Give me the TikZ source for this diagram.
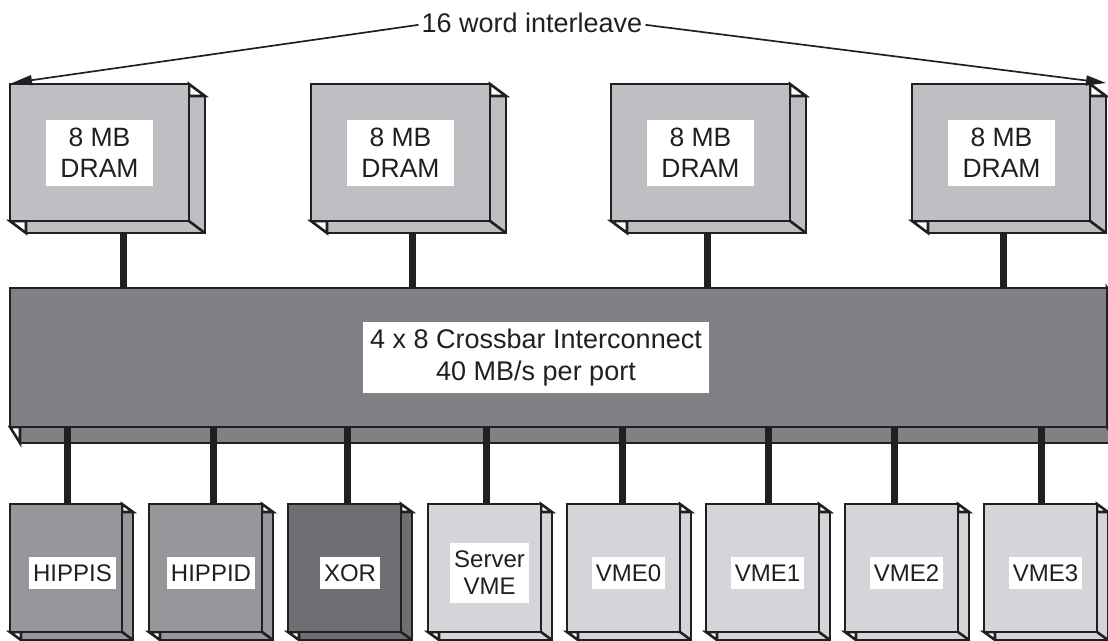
\documentclass[tikz,border=0pt]{standalone}
\usepackage{fontspec}
\setmainfont{Liberation Sans}
\usetikzlibrary{arrows.meta}
\definecolor{ink}{HTML}{231F20}
\definecolor{dramfill}{HTML}{BEBFC3}
\definecolor{xbarfill}{HTML}{808185}
\definecolor{hipfill}{HTML}{96979B}
\definecolor{xorfill}{HTML}{6E6F73}
\definecolor{vmefill}{HTML}{D4D5D8}
\pgfdeclarelayer{bg}
\pgfsetlayers{bg,main}
\tikzset{
  boxline/.style={draw=ink, line width=2.6pt, line join=miter},
  conn/.style={draw=ink, line width=7pt},
  arr/.style={draw=ink, line width=1.7pt, -{Triangle[length=20pt,width=10pt]}},
  lab/.style={fill=white, text=ink, inner sep=0pt, align=center},
  bigfont/.style={font=\fontsize{26.5}{31}\selectfont},
  xfont/.style={font=\fontsize{27}{32}\selectfont},
  lowfont/.style={font=\fontsize{24}{27}\selectfont},
}
% #1 name, #2 x0, #3 y0, #4 x1, #5 y1, #6 dx, #7 dy, #8 fill
\newcommand\threedbox[8]{%
  \path[boxline, fill=#8] ({#2+#6},{#3+#7}) rectangle ({#4+#6},{#5+#7});
  \path[boxline, fill=white] (#4,#3) -- ({#4+#6},{#3+#7}) -- (#4,{#3+#7}) -- cycle;
  \path[boxline, fill=white] (#2,#5) -- ({#2+#6},{#5+#7}) -- ({#2+#6},#5) -- cycle;
  \path[boxline] (#4,#5) -- ({#4+#6},{#5+#7});
  \node[boxline, fill=#8, inner sep=0pt, outer sep=0pt, anchor=north west,
        minimum width={(#4-#2)*1pt}, minimum height={(#5-#3)*1pt}] (#1) at (#2,#3) {};%
}
\begin{document}
\begin{tikzpicture}[x=1pt,y=-1pt]
\useasboundingbox (0,0) rectangle (1108,640);
\clip (0,0) rectangle (1108,640);

% memory modules
\threedbox{dram1}{10}{84}{189}{221}{16}{12}{dramfill}
\threedbox{dram2}{311}{84}{490}{221}{16}{12}{dramfill}
\threedbox{dram3}{611}{84}{790}{221}{16}{12}{dramfill}
\threedbox{dram4}{912}{84}{1090}{221}{16}{12}{dramfill}

\node[lab, bigfont, minimum width=107pt, minimum height=66pt] (l1) at (99.5,153) {8 MB\\DRAM};
\node[lab, bigfont, minimum width=107pt, minimum height=66pt] (l2) at (400.5,153) {8 MB\\DRAM};
\node[lab, bigfont, minimum width=107pt, minimum height=66pt] (l3) at (700.5,153) {8 MB\\DRAM};
\node[lab, bigfont, minimum width=107pt, minimum height=66pt] (l4) at (1001.5,153) {8 MB\\DRAM};

% crossbar
\threedbox{xbar}{10}{288}{1107}{427}{10}{16}{xbarfill}
\node[lab, xfont, minimum width=346pt, minimum height=71pt] (xl) at (536,357.5)
  {4 x 8 Crossbar Interconnect\\40 MB/s per port};

% lower modules
\threedbox{hippis}{10}{504}{122}{632}{11}{8}{hipfill}
\threedbox{hippid}{149}{504}{262}{632}{11}{8}{hipfill}
\threedbox{xor}{288}{504}{401}{632}{11}{8}{xorfill}
\threedbox{svme}{428}{504}{541}{632}{11}{8}{vmefill}
\threedbox{vme0}{567}{504}{680}{632}{11}{8}{vmefill}
\threedbox{vme1}{706}{504}{819}{632}{11}{8}{vmefill}
\threedbox{vme2}{845}{504}{958}{632}{11}{8}{vmefill}
\threedbox{vme3}{984}{504}{1097}{632}{11}{8}{vmefill}

\node[lab, lowfont, minimum width=87pt, minimum height=32pt] (lh1) at (72.5,573) {HIPPIS};
\node[lab, lowfont, minimum width=88pt, minimum height=32pt] (lh2) at (211,573) {HIPPID};
\node[lab, lowfont, minimum width=60pt, minimum height=32pt] (lx) at (350,573) {XOR};
\node[lab, lowfont, minimum width=79pt, minimum height=60pt] (ls) at (489.5,573) {Server\\VME};
\node[lab, lowfont, minimum width=73pt, minimum height=32pt] (lv0) at (628.5,573) {VME0};
\node[lab, lowfont, minimum width=73pt, minimum height=32pt] (lv1) at (767.5,573) {VME1};
\node[lab, lowfont, minimum width=73pt, minimum height=32pt] (lv2) at (906.5,573) {VME2};
\node[lab, lowfont, minimum width=73pt, minimum height=32pt] (lv3) at (1045.5,573) {VME3};

% upper connectors (behind the boxes)
\coordinate (u1) at (123,0);
\coordinate (u2) at (412,0);
\coordinate (u3) at (707,0);
\coordinate (u4) at (1003,0);
\begin{pgfonlayer}{bg}
\draw[conn] (u1 |- dram1.south) -- (u1 |- xbar.north);
\draw[conn] (u2 |- dram2.south) -- (u2 |- xbar.north);
\draw[conn] (u3 |- dram3.south) -- (u3 |- xbar.north);
\draw[conn] (u4 |- dram4.south) -- (u4 |- xbar.north);
\end{pgfonlayer}

% lower connectors (over the crossbar's lower face)
\coordinate (d1) at (67,0);
\coordinate (d2) at (213,0);
\coordinate (d3) at (347,0);
\coordinate (d4) at (486,0);
\coordinate (d5) at (622,0);
\coordinate (d6) at (768,0);
\coordinate (d7) at (894,0);
\coordinate (d8) at (1041,0);
\draw[conn] (d1 |- xbar.south) -- (d1 |- hippis.north);
\draw[conn] (d2 |- xbar.south) -- (d2 |- hippid.north);
\draw[conn] (d3 |- xbar.south) -- (d3 |- xor.north);
\draw[conn] (d4 |- xbar.south) -- (d4 |- svme.north);
\draw[conn] (d5 |- xbar.south) -- (d5 |- vme0.north);
\draw[conn] (d6 |- xbar.south) -- (d6 |- vme1.north);
\draw[conn] (d7 |- xbar.south) -- (d7 |- vme2.north);
\draw[conn] (d8 |- xbar.south) -- (d8 |- vme3.north);

% interleave label and arrows
\node[text=ink, xfont, inner sep=3pt, anchor=base] (il) at (532,32) {16 word interleave};
\coordinate (tipL) at (12,83);
\coordinate (tipR) at (1106,83);
\draw[arr] ([yshift=-2.5pt]il.west) -- (tipL);
\draw[arr] ([yshift=-2.5pt]il.east) -- (tipR);
\end{tikzpicture}
\end{document}
